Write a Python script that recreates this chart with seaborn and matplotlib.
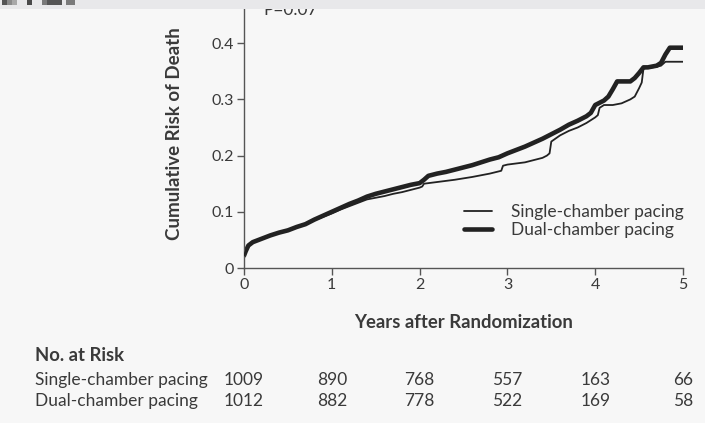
import matplotlib
matplotlib.use("Agg")
import matplotlib.pyplot as plt
from matplotlib.lines import Line2D
from matplotlib.patches import Rectangle
import seaborn as sns
import pandas as pd

# ---- data ----
single_t = [0, 0.02, 0.05, 0.1, 0.2, 0.3, 0.4, 0.5, 0.6, 0.7, 0.8, 0.9, 1.0, 1.1, 1.2, 1.3,
            1.4, 1.5, 1.6, 1.7, 1.8, 1.9, 2.0, 2.03, 2.05, 2.2, 2.4, 2.6, 2.8, 2.93, 2.95,
            3.0, 3.2, 3.4, 3.45, 3.48, 3.5, 3.6, 3.7, 3.8, 3.9, 4.0, 4.03, 4.05, 4.1, 4.2,
            4.3, 4.4, 4.45, 4.5, 4.53, 4.55, 4.7, 4.75, 4.8, 5.0]
single_y = [0.022, 0.030, 0.040, 0.046, 0.052, 0.058, 0.063, 0.067, 0.072, 0.078, 0.085,
            0.091, 0.097, 0.104, 0.110, 0.116, 0.122, 0.125, 0.128, 0.132, 0.135, 0.139,
            0.143, 0.145, 0.150, 0.153, 0.157, 0.162, 0.168, 0.173, 0.182, 0.184, 0.188,
            0.196, 0.200, 0.204, 0.225, 0.236, 0.244, 0.250, 0.258, 0.268, 0.272, 0.285,
            0.290, 0.290, 0.293, 0.300, 0.305, 0.320, 0.330, 0.355, 0.358, 0.360, 0.367,
            0.367]

dual_t = [0, 0.02, 0.05, 0.1, 0.2, 0.3, 0.4, 0.5, 0.6, 0.7, 0.8, 0.9, 1.0, 1.1, 1.2, 1.3,
          1.4, 1.5, 1.6, 1.7, 1.8, 1.9, 2.0, 2.05, 2.1, 2.2, 2.3, 2.4, 2.5, 2.6, 2.7, 2.8,
          2.9, 3.0, 3.1, 3.2, 3.3, 3.4, 3.5, 3.6, 3.7, 3.8, 3.9, 3.95, 4.0, 4.1, 4.15, 4.2,
          4.25, 4.4, 4.45, 4.5, 4.55, 4.6, 4.7, 4.75, 4.8, 4.85, 5.0]
dual_y = [0.022, 0.030, 0.040, 0.046, 0.052, 0.058, 0.063, 0.067, 0.073, 0.078, 0.086,
          0.093, 0.100, 0.107, 0.114, 0.120, 0.127, 0.132, 0.136, 0.140, 0.144, 0.148,
          0.151, 0.157, 0.164, 0.168, 0.171, 0.175, 0.179, 0.183, 0.188, 0.193, 0.197,
          0.204, 0.210, 0.216, 0.223, 0.230, 0.238, 0.246, 0.255, 0.262, 0.270, 0.276,
          0.290, 0.298, 0.305, 0.318, 0.332, 0.332, 0.338, 0.347, 0.357, 0.357, 0.360,
          0.365, 0.380, 0.392, 0.392]

series_labels = ["Single-chamber pacing", "Dual-chamber pacing"]
x_ticks = [0, 1, 2, 3, 4, 5]
y_ticks = [0, 0.1, 0.2, 0.3, 0.4]
y_tick_labels = ["0", "0.1", "0.2", "0.3", "0.4"]
risk_single = [1009, 890, 768, 557, 163, 66]
risk_dual = [1012, 882, 778, 522, 169, 58]
p_text = "P=0.07"

# ---- style ----
sns.set_theme(style="white")
FONT = ["Lato", "DejaVu Sans"]
plt.rcParams["font.family"] = FONT
TXT = "#3a3a3a"
LINE = "#222222"
BG = "#f7f7f7"
FS = 12.5

W, H = 705, 423
fig = plt.figure(figsize=(W / 100, H / 100), dpi=100)
fig.patch.set_facecolor(BG)

def fx(px):
    return px / W

def fy(py):
    return 1 - py / H

ax = fig.add_axes([fx(244), fy(268), fx(683) - fx(244), fy(0) - fy(268)])
ax.set_facecolor(BG)

df_s = pd.DataFrame({"t": single_t, "risk": single_y})
df_d = pd.DataFrame({"t": dual_t, "risk": dual_y})
sns.lineplot(data=df_s, x="t", y="risk", ax=ax, estimator=None,
             color=LINE, linewidth=1.3, zorder=3)
sns.lineplot(data=df_d, x="t", y="risk", ax=ax, estimator=None,
             color=LINE, linewidth=3.3, zorder=2)

ax.set_xlim(0, 5)
ax.set_ylim(0, 268 / 562)
ax.set_xticks(x_ticks)
ax.set_xticklabels([str(v) for v in x_ticks])
ax.set_yticks(y_ticks)
ax.set_yticklabels(y_tick_labels)
for s in ["top", "right"]:
    ax.spines[s].set_visible(False)
for s in ["left", "bottom"]:
    ax.spines[s].set_color("#555555")
    ax.spines[s].set_linewidth(1.0)
ax.tick_params(axis="both", direction="out", length=5, width=1.0, color="#555555",
               labelcolor=TXT, labelsize=11.5, pad=2, left=True, bottom=True)
ax.set_xlabel("Years after Randomization", fontsize=13.3, fontweight="bold", color=TXT)
ax.set_ylabel("Cumulative Risk of Death", fontsize=13.5, fontweight="bold", color=TXT)
ax.xaxis.set_label_coords(0.5, (268 - 322) / 268, transform=ax.transAxes)
ax.yaxis.set_label_coords((175 - 244) / 439, 0.5, transform=ax.transAxes)
ax.xaxis.label.set_va("center")
ax.yaxis.label.set_va("center")
ax.text(fx(263), fy(10), p_text, transform=fig.transFigure, fontsize=FS, color=TXT,
        va="center", ha="left")

handles = [Line2D([0], [0], color=LINE, lw=1.3), Line2D([0], [0], color=LINE, lw=3.3)]
leg = fig.legend(handles, series_labels, loc="center left",
                 bbox_to_anchor=(fx(464), fy(221)), frameon=False, fontsize=FS,
                 handlelength=1.6, handletextpad=1.1, labelspacing=0.15, borderaxespad=0,
                 borderpad=0)
for t in leg.get_texts():
    t.set_color(TXT)

# number at risk table
fig.text(fx(35), fy(355), "No. at Risk", fontsize=13.3, fontweight="bold", color=TXT,
         va="center", ha="left")
for row, (label, vals) in enumerate([(series_labels[0], risk_single),
                                     (series_labels[1], risk_dual)]):
    ypx = 380 + row * 21
    fig.text(fx(35), fy(ypx), label, fontsize=FS, color=TXT, va="center", ha="left")
    for xv, v in zip(x_ticks, vals):
        xd = ax.transData.transform((xv, 0))[0]
        xf = fig.transFigure.inverted().transform((xd, 0))[0]
        fig.text(xf, fy(ypx), str(v), fontsize=FS, color=TXT, va="center", ha="center")

# top band of the crop
fig.patches.append(Rectangle((0, fy(9)), 1, 1 - fy(9), transform=fig.transFigure,
                             facecolor="#e8e8ea", edgecolor="none", zorder=10))
for (x0, x1, c) in [(2, 7, "#555555"), (7, 12, "#8a8a8a"), (12, 17, "#a8a8a8"),
                    (27, 32, "#4a4a4a"), (42, 47, "#7a7a7a"), (47, 62, "#555555"),
                    (66, 75, "#7a7a7a")]:
    fig.patches.append(Rectangle((fx(x0), fy(5)), fx(x1) - fx(x0), 1 - fy(5),
                                 transform=fig.transFigure, facecolor=c,
                                 edgecolor="none", zorder=11))

fig.savefig("out.png", dpi=100, facecolor=BG)
